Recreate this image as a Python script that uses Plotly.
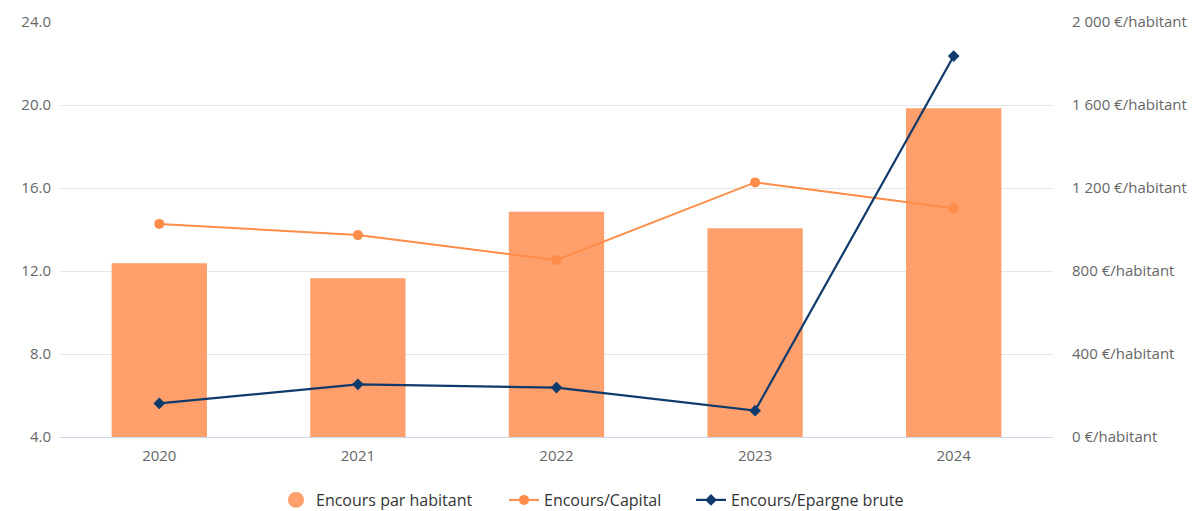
import plotly.graph_objects as go

years = ["2020", "2021", "2022", "2023", "2024"]
encours_par_habitant = [837, 765, 1086, 1006, 1584]
encours_capital = [14.27, 13.73, 12.53, 16.27, 15.02]
encours_epargne = [5.62, 6.54, 6.38, 5.27, 22.36]

left_ticks = [4, 8, 12, 16, 20, 24]
right_ticks = [0, 400, 800, 1200, 1600, 2000]
right_labels = ["0 €/habitant", "400 €/habitant", "800 €/habitant",
                "1 200 €/habitant", "1 600 €/habitant", "2 000 €/habitant"]

BAR = "#FF9F6B"
CAP = "#FF8C48"
EPA = "#0E3A6C"
FONT = "Open Sans"
TICK = dict(size=15, color="#666666", family=FONT)
LEG = dict(size=16, color="#333333", family=FONT)

fig = go.Figure()
fig.add_trace(go.Bar(x=years, y=encours_par_habitant, yaxis="y", name="Encours par habitant",
                     marker=dict(color=BAR, line=dict(width=0)), width=0.48, showlegend=False))
fig.add_trace(go.Scatter(x=[None], y=[None], mode="markers", name="Encours par habitant",
                         marker=dict(color=BAR, size=16, symbol="circle"), legend="legend"))
fig.add_trace(go.Scatter(x=years, y=encours_capital, yaxis="y2", mode="lines+markers",
                         name="Encours/Capital", legend="legend2",
                         line=dict(color=CAP, width=2), marker=dict(color=CAP, size=10, symbol="circle")))
fig.add_trace(go.Scatter(x=years, y=encours_epargne, yaxis="y2", mode="lines+markers",
                         name="Encours/Epargne brute", legend="legend3",
                         line=dict(color=EPA, width=2.2), marker=dict(color=EPA, size=9, symbol="diamond")))

leg_common = dict(orientation="h", xref="container", yref="container", y=1 - 500 / 511,
                  yanchor="middle", xanchor="left", font=LEG, bgcolor="rgba(0,0,0,0)")

fig.update_layout(
    width=1197, height=511,
    margin=dict(l=60, r=144, t=22, b=74, autoexpand=False),
    paper_bgcolor="white", plot_bgcolor="white",
    font=dict(family=FONT, size=15, color="#666666"),
    xaxis=dict(type="category", showgrid=False, showline=True, linecolor="#CCD6EB", linewidth=1,
               ticks="", tickfont=TICK, fixedrange=True, ticklabelstandoff=5),
    yaxis=dict(range=[0, 2000], side="right", tickvals=right_ticks, ticktext=right_labels,
               showgrid=True, gridcolor="#E6E6E6", gridwidth=1, zeroline=False, showline=False,
               tickfont=TICK, ticklabelstandoff=18),
    yaxis2=dict(range=[4, 24], overlaying="y", side="left", tickvals=left_ticks, tickformat=".1f",
                showgrid=False, zeroline=False, showline=False,
                tickfont=TICK, ticklabelstandoff=8),
    legend=dict(leg_common, x=(316 - 40) / 1197),
    legend2=dict(leg_common, x=(544 - 40) / 1197),
    legend3=dict(leg_common, x=(731 - 40) / 1197),
)

fig.write_html("out.html")
